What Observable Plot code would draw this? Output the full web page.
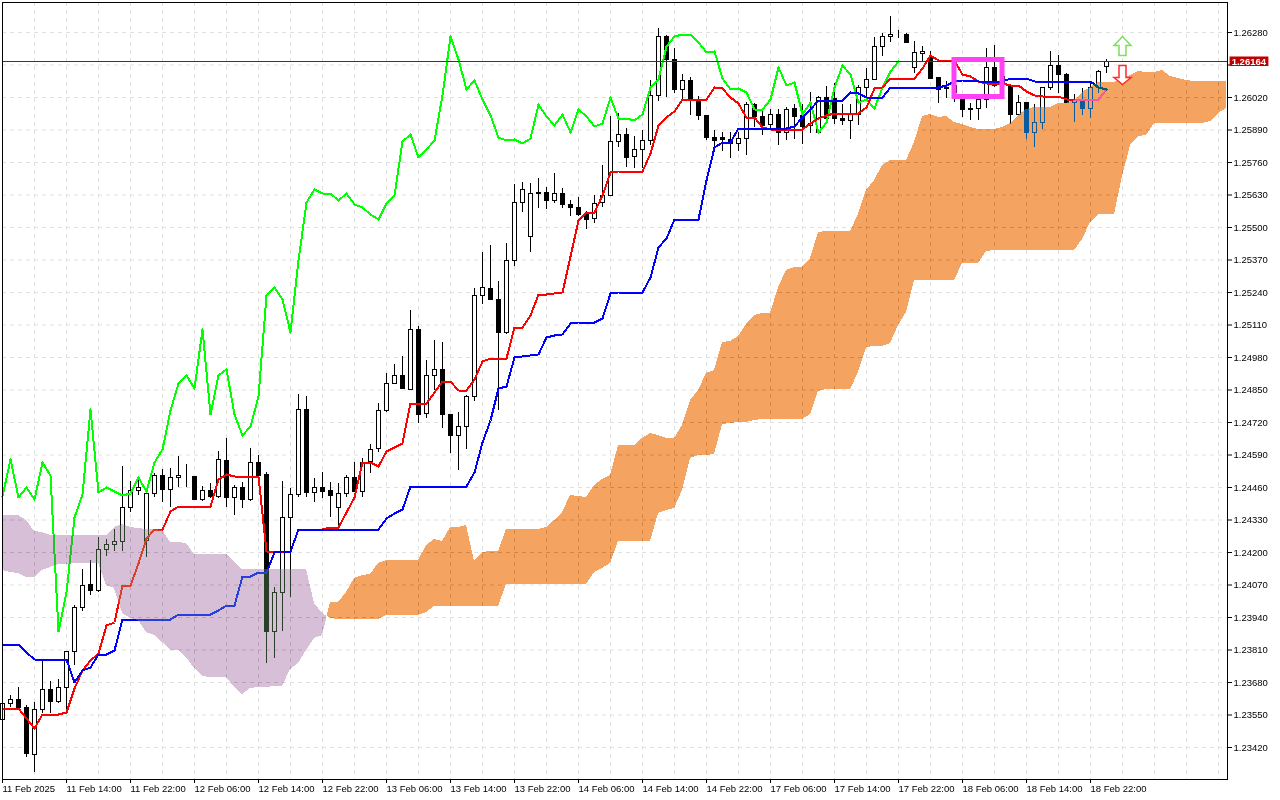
<!DOCTYPE html>
<html>
<head>
<meta charset="utf-8">
<script src="https://cdn.jsdelivr.net/npm/d3@7"></script>
<script src="https://cdn.jsdelivr.net/npm/@observablehq/plot@0.6"></script>
<style>
html,body{margin:0;padding:0;background:#fff}
svg{display:block}
</style>
</head>
<body>
<div id="chart"></div>
<script>
const open = [
1.23532,1.23596,1.23612,1.23580,1.23392,1.23572,1.23652,1.23604,1.23660,1.23804,
1.23980,1.24072,1.24048,1.24212,1.24232,1.24244,1.24380,1.24448,1.24248,1.24436,
1.24508,1.24452,1.24500,1.24508,1.24504,1.24412,1.24448,1.24424,1.24568,1.24420,
1.24460,1.24412,1.24560,1.24512,1.23884,1.24040,1.24340,1.24432,1.24772,1.24440,
1.24460,1.24448,1.24380,1.24436,1.24500,1.24444,1.24564,1.24616,1.24768,1.24876,
1.24908,1.24852,1.25092,1.24756,1.24908,1.24932,1.24752,1.24668,1.24704,1.24824,
1.25228,1.25256,1.25212,1.25080,1.25368,1.25600,1.25464,1.25640,1.25640,1.25608,
1.25636,1.25592,1.25580,1.25552,1.25536,1.25600,1.25628,1.25844,1.25872,1.25784,
1.25812,1.25848,1.26028,1.26264,1.26172,1.26052,1.26088,1.26008,1.25948,1.25860,
1.25860,1.25852,1.25836,1.25856,1.25992,1.25944,1.25912,1.25952,1.25880,1.25976,
1.25948,1.25908,1.25880,1.26020,1.26016,1.25936,1.25928,1.25952,1.26060,1.26092,
1.26224,1.26264,1.26272,1.26272,1.26140,1.26196,1.26180,1.26100,1.26060,1.26068,
1.26012,1.25976,1.25976,1.26012,1.26140,1.26104,1.26068,1.25952,1.26000,1.25880,
1.25920,1.26060,1.26148,1.26112,1.26000,1.26012,1.25976,1.26060,1.26144];
const high = [
1.23620,1.23628,1.23660,1.23588,1.23600,1.23768,1.23684,1.23692,1.23804,1.23988,
1.24132,1.24168,1.24260,1.24252,1.24292,1.24544,1.24484,1.24500,1.24436,1.24516,
1.24532,1.24536,1.24584,1.24552,1.24504,1.24464,1.24476,1.24604,1.24656,1.24468,
1.24480,1.24616,1.24588,1.24520,1.24060,1.24484,1.24456,1.24832,1.24824,1.24496,
1.24520,1.24480,1.24476,1.24508,1.24560,1.24576,1.24632,1.24796,1.24916,1.24952,
1.24984,1.25168,1.25104,1.24968,1.25048,1.25040,1.24752,1.24760,1.24828,1.25256,
1.25400,1.25428,1.25284,1.25436,1.25672,1.25680,1.25676,1.25696,1.25660,1.25716,
1.25656,1.25608,1.25620,1.25564,1.25628,1.25748,1.25944,1.25956,1.25896,1.25864,
1.25888,1.26088,1.26296,1.26268,1.26216,1.26112,1.26100,1.26024,1.25948,1.25888,
1.25880,1.25880,1.25880,1.26000,1.25996,1.25972,1.25972,1.25972,1.25980,1.25992,
1.25992,1.26040,1.26024,1.26064,1.26076,1.25992,1.25992,1.26068,1.26136,1.26260,
1.26276,1.26344,1.26288,1.26276,1.26244,1.26224,1.26204,1.26100,1.26084,1.26088,
1.26032,1.25996,1.26032,1.26216,1.26228,1.26128,1.26068,1.26028,1.26000,1.25992,
1.26060,1.26204,1.26188,1.26116,1.26032,1.26056,1.26076,1.26128,1.26172];
const low = [
1.23520,1.23580,1.23580,1.23380,1.23320,1.23556,1.23556,1.23596,1.23556,1.23748,
1.23964,1.24028,1.24040,1.24184,1.24204,1.24204,1.24360,1.24428,1.24180,1.24420,
1.24400,1.24380,1.24460,1.24460,1.24408,1.24404,1.24416,1.24416,1.24380,1.24348,
1.24376,1.24404,1.24508,1.23756,1.23776,1.23884,1.24020,1.24420,1.24420,1.24400,
1.24416,1.24340,1.24284,1.24420,1.24444,1.24420,1.24516,1.24600,1.24760,1.24876,
1.24856,1.24852,1.24716,1.24736,1.24848,1.24696,1.24596,1.24528,1.24612,1.24804,
1.25192,1.25208,1.24768,1.25072,1.25344,1.25560,1.25400,1.25576,1.25572,1.25596,
1.25576,1.25544,1.25544,1.25492,1.25516,1.25580,1.25628,1.25820,1.25740,1.25736,
1.25736,1.25828,1.26004,1.26020,1.26036,1.26012,1.25948,1.25928,1.25848,1.25808,
1.25804,1.25776,1.25804,1.25788,1.25900,1.25868,1.25888,1.25828,1.25848,1.25852,
1.25832,1.25876,1.25876,1.25916,1.25912,1.25908,1.25852,1.25908,1.26020,1.26092,
1.26184,1.26240,1.26256,1.26240,1.26116,1.26160,1.26092,1.25996,1.26016,1.26000,
1.25940,1.25928,1.25928,1.25976,1.26060,1.26056,1.25912,1.25952,1.25852,1.25820,
1.25892,1.26048,1.26036,1.26000,1.25920,1.25948,1.25936,1.26036,1.26116];
const close = [
1.23596,1.23612,1.23580,1.23396,1.23572,1.23652,1.23604,1.23660,1.23804,1.23980,
1.24068,1.24048,1.24212,1.24232,1.24244,1.24380,1.24448,1.24460,1.24436,1.24508,
1.24452,1.24500,1.24508,1.24508,1.24412,1.24448,1.24424,1.24572,1.24420,1.24460,
1.24412,1.24560,1.24508,1.23884,1.24040,1.24340,1.24432,1.24772,1.24440,1.24460,
1.24444,1.24428,1.24436,1.24500,1.24444,1.24560,1.24612,1.24768,1.24876,1.24908,
1.24856,1.25092,1.24752,1.24908,1.24932,1.24752,1.24668,1.24704,1.24824,1.25228,
1.25260,1.25212,1.25080,1.25368,1.25600,1.25652,1.25636,1.25636,1.25608,1.25636,
1.25592,1.25580,1.25552,1.25532,1.25596,1.25628,1.25844,1.25872,1.25780,1.25812,
1.25848,1.26028,1.26264,1.26172,1.26052,1.26088,1.26012,1.25948,1.25860,1.25848,
1.25852,1.25836,1.25856,1.25992,1.25944,1.25908,1.25952,1.25880,1.25972,1.25944,
1.25904,1.25916,1.26020,1.25936,1.25936,1.25928,1.25952,1.26060,1.26092,1.26224,
1.26264,1.26272,1.26272,1.26240,1.26200,1.26204,1.26096,1.26052,1.26056,1.26040,
1.25972,1.25972,1.26012,1.26140,1.26068,1.26080,1.25952,1.26000,1.25880,1.25920,
1.26060,1.26148,1.26112,1.26000,1.26012,1.25976,1.26060,1.26124,1.26164];
const tenkan = [
1.23576,1.23576,1.23576,1.23536,1.23496,1.23552,1.23552,1.23552,1.23560,1.23656,
1.23728,1.23768,1.23796,1.23908,1.23920,1.24068,1.24068,1.24156,1.24256,1.24292,
1.24292,1.24364,1.24384,1.24384,1.24384,1.24384,1.24384,1.24492,1.24512,1.24504,
1.24504,1.24504,1.24504,1.24204,1.24204,1.24204,1.24204,1.24292,1.24292,1.24292,
1.24292,1.24300,1.24300,1.24360,1.24420,1.24560,1.24560,1.24544,1.24604,1.24620,
1.24636,1.24796,1.24796,1.24796,1.24840,1.24884,1.24884,1.24848,1.24848,1.24892,
1.24964,1.24976,1.24976,1.24976,1.25100,1.25100,1.25148,1.25232,1.25232,1.25236,
1.25240,1.25384,1.25528,1.25560,1.25560,1.25628,1.25720,1.25724,1.25724,1.25724,
1.25724,1.25796,1.25908,1.25940,1.25964,1.26012,1.26012,1.26012,1.26012,1.26060,
1.26056,1.26020,1.25996,1.25940,1.25940,1.25900,1.25892,1.25892,1.25892,1.25892,
1.25892,1.25916,1.25936,1.25948,1.25956,1.25956,1.25956,1.25956,1.25980,1.26056,
1.26060,1.26096,1.26096,1.26096,1.26096,1.26136,1.26188,1.26168,1.26168,1.26168,
1.26112,1.26104,1.26084,1.26076,1.26076,1.26076,1.26068,1.26068,1.26044,1.26028,
1.26024,1.26024,1.26024,1.26012,1.26012,1.26012,1.26012,1.26012,1.26052];
const kijun = [
1.23832,1.23832,1.23832,1.23800,1.23772,1.23772,1.23772,1.23772,1.23772,1.23680,
1.23728,1.23740,1.23792,1.23792,1.23808,1.23932,1.23932,1.23932,1.23932,1.23932,
1.23932,1.23932,1.23952,1.23952,1.23952,1.23952,1.23952,1.23968,1.23988,1.23988,
1.24104,1.24104,1.24120,1.24120,1.24200,1.24204,1.24204,1.24292,1.24292,1.24292,
1.24292,1.24292,1.24292,1.24292,1.24292,1.24292,1.24292,1.24292,1.24336,1.24356,
1.24372,1.24464,1.24464,1.24464,1.24464,1.24464,1.24464,1.24464,1.24464,1.24520,
1.24640,1.24728,1.24856,1.24864,1.24980,1.24984,1.24988,1.24992,1.25060,1.25068,
1.25072,1.25116,1.25120,1.25120,1.25120,1.25136,1.25236,1.25240,1.25240,1.25240,
1.25240,1.25300,1.25420,1.25456,1.25532,1.25532,1.25532,1.25532,1.25688,1.25820,
1.25840,1.25840,1.25896,1.25896,1.25896,1.25896,1.25896,1.25896,1.25896,1.25904,
1.25940,1.25972,1.26008,1.26008,1.26008,1.26008,1.26040,1.26036,1.26020,1.26020,
1.26020,1.26060,1.26060,1.26060,1.26060,1.26060,1.26060,1.26060,1.26068,1.26084,
1.26088,1.26088,1.26084,1.26084,1.26084,1.26084,1.26096,1.26096,1.26096,1.26084,
1.26084,1.26084,1.26084,1.26084,1.26084,1.26084,1.26084,1.26060,1.26052];
const chikou = [
1.24424,1.24572,1.24420,1.24460,1.24412,1.24560,1.24508,1.23884,1.24040,1.24340,
1.24432,1.24772,1.24440,1.24460,1.24444,1.24428,1.24436,1.24500,1.24444,1.24560,
1.24612,1.24768,1.24876,1.24908,1.24856,1.25092,1.24752,1.24908,1.24932,1.24752,
1.24668,1.24704,1.24824,1.25228,1.25260,1.25212,1.25080,1.25368,1.25600,1.25652,
1.25636,1.25636,1.25608,1.25636,1.25592,1.25580,1.25552,1.25532,1.25596,1.25628,
1.25844,1.25872,1.25780,1.25812,1.25848,1.26028,1.26264,1.26172,1.26052,1.26088,
1.26012,1.25948,1.25860,1.25848,1.25852,1.25836,1.25856,1.25992,1.25944,1.25908,
1.25952,1.25880,1.25972,1.25944,1.25904,1.25916,1.26020,1.25936,1.25936,1.25928,
1.25952,1.26060,1.26092,1.26224,1.26264,1.26272,1.26272,1.26240,1.26200,1.26204,
1.26096,1.26052,1.26056,1.26040,1.25972,1.25972,1.26012,1.26140,1.26068,1.26080,
1.25952,1.26000,1.25880,1.25920,1.26060,1.26148,1.26112,1.26000,1.26012,1.25976,
1.26060,1.26124,1.26164];
const spanA = [
1.24128,1.24120,1.24116,1.24100,1.24100,1.24128,1.24140,1.24152,1.24152,1.24156,
1.24156,1.24156,1.24156,1.24068,1.24056,1.23956,1.23936,1.23928,1.23880,1.23868,
1.23840,1.23808,1.23808,1.23780,1.23736,1.23704,1.23700,1.23700,1.23700,1.23660,
1.23632,1.23656,1.23660,1.23660,1.23664,1.23664,1.23732,1.23756,1.23808,1.23856,
1.23868,1.24000,1.24000,1.24040,1.24096,1.24108,1.24112,1.24156,1.24168,1.24168,
1.24168,1.24168,1.24168,1.24228,1.24252,1.24244,1.24300,1.24300,1.24308,1.24164,
1.24200,1.24204,1.24204,1.24292,1.24292,1.24292,1.24292,1.24292,1.24300,1.24328,
1.24360,1.24428,1.24424,1.24420,1.24468,1.24492,1.24508,1.24628,1.24628,1.24628,
1.24656,1.24676,1.24668,1.24656,1.24656,1.24708,1.24808,1.24848,1.24916,1.24928,
1.25040,1.25044,1.25064,1.25112,1.25148,1.25156,1.25156,1.25260,1.25328,1.25340,
1.25340,1.25376,1.25480,1.25484,1.25484,1.25484,1.25484,1.25552,1.25648,1.25688,
1.25748,1.25768,1.25768,1.25768,1.25840,1.25944,1.25952,1.25940,1.25944,1.25920,
1.25912,1.25900,1.25892,1.25892,1.25892,1.25900,1.25916,1.25948,1.25972,1.25980,
1.25980,1.25980,1.25996,1.25996,1.26008,1.26040,1.26060,1.26080,1.26080,1.26080,
1.26092,1.26108,1.26124,1.26120,1.26120,1.26128,1.26104,1.26096,1.26088,1.26084,
1.26084,1.26084,1.26084,1.26084];
const spanB = [
1.24348,1.24348,1.24348,1.24328,1.24284,1.24280,1.24268,1.24268,1.24268,1.24268,
1.24268,1.24268,1.24268,1.24268,1.24300,1.24312,1.24300,1.24296,1.24292,1.24292,
1.24288,1.24240,1.24240,1.24236,1.24192,1.24192,1.24192,1.24192,1.24192,1.24160,
1.24132,1.24132,1.24132,1.24132,1.24132,1.24132,1.24132,1.24132,1.24132,1.23996,
1.23956,1.23936,1.23932,1.23932,1.23932,1.23932,1.23932,1.23932,1.23948,1.23948,
1.23948,1.23948,1.23948,1.23960,1.23984,1.23984,1.23984,1.23984,1.23984,1.23984,
1.23984,1.23984,1.23984,1.24072,1.24072,1.24072,1.24072,1.24072,1.24072,1.24072,
1.24072,1.24072,1.24072,1.24072,1.24120,1.24136,1.24156,1.24244,1.24244,1.24244,
1.24244,1.24244,1.24356,1.24368,1.24376,1.24448,1.24576,1.24588,1.24588,1.24592,
1.24712,1.24716,1.24720,1.24720,1.24728,1.24732,1.24732,1.24732,1.24732,1.24732,
1.24732,1.24752,1.24844,1.24852,1.24852,1.24852,1.24852,1.24920,1.25020,1.25024,
1.25024,1.25036,1.25108,1.25160,1.25288,1.25288,1.25288,1.25288,1.25288,1.25288,
1.25356,1.25356,1.25356,1.25404,1.25408,1.25408,1.25408,1.25408,1.25408,1.25408,
1.25408,1.25408,1.25408,1.25408,1.25408,1.25452,1.25520,1.25552,1.25552,1.25552,
1.25704,1.25828,1.25864,1.25868,1.25916,1.25916,1.25916,1.25916,1.25916,1.25916,
1.25916,1.25924,1.25956,1.25976];
const priceTicks = [1.2628,1.2615,1.2602,1.2589,1.2576,1.2563,1.255,1.2537,1.2524,1.2511,1.2498,1.2485,1.2472,1.2459,1.2446,1.2433,1.242,1.2407,1.2394,1.2381,1.2368,1.2355,1.2342];
const hiddenPriceTick = 1.2615;
const timeTickBars = [0,8,16,24,32,40,48,56,64,72,80,88,96,104,112,120,128,136];
const timeLabels = ["11 Feb 2025","11 Feb 14:00","11 Feb 22:00","12 Feb 06:00","12 Feb 14:00","12 Feb 22:00","13 Feb 06:00","13 Feb 14:00","13 Feb 22:00","14 Feb 06:00","14 Feb 14:00","14 Feb 22:00","17 Feb 06:00","17 Feb 14:00","17 Feb 22:00","18 Feb 06:00","18 Feb 14:00","18 Feb 22:00"];
const gridBars = [0,4,8,12,16,20,24,28,32,36,40,44,48,52,56,60,64,68,72,76,80,84,88,92,96,100,104,108,112,116,120,124,128,132,136,140,144,148,152];
const lastPrice = 1.26164;

const candles = open.map((o,i)=>({i,open:o,high:high[i],low:low[i],close:close[i]}));
const rising = candles.filter(d=>d.close>=d.open);
const falling = candles.filter(d=>d.close<d.open);
const series = a => a.map((v,i)=>({i,v}));

// split the cloud where the spans cross
const bearish = [], bullish = [];
spanA.forEach((a,i)=>{
  const b = spanB[i], row = {i,a,b};
  (a<b?bearish:bullish).push(row);
  if (i+1<spanA.length && (a-b)*(spanA[i+1]-spanB[i+1])<0) {
    const t=(a-b)/((a-b)-(spanA[i+1]-spanB[i+1]));
    const v=a+t*(spanA[i+1]-a), cross={i:i+t,a:v,b:v};
    bearish.push(cross); bullish.push(cross);
  }
});

const upArrow = {draw(c){c.moveTo(0,-9);c.lineTo(8.5,0);c.lineTo(3.5,0);c.lineTo(3.5,10);c.lineTo(-3.5,10);c.lineTo(-3.5,0);c.lineTo(-8.5,0);c.closePath();}};
const downArrow = {draw(c){c.moveTo(0,7);c.lineTo(8.5,0);c.lineTo(3.5,0);c.lineTo(3.5,-12);c.lineTo(-3.5,-12);c.lineTo(-3.5,0);c.lineTo(-8.5,0);c.closePath();}};

const gridStyle = {stroke:"#e0e0e0",strokeOpacity:1,strokeDasharray:"4,4",strokeWidth:1};
const lineStyle = {x:"i",y:"v",strokeWidth:2,shapeRendering:"crispEdges"};
const font = "Liberation Sans";

const chart = Plot.plot({
  width:1280,height:800,
  marginLeft:2,marginRight:53,marginTop:2,marginBottom:21,
  x:{type:"linear",domain:[0,153.125]},
  y:{type:"linear",domain:[1.23292,1.264]},
  style:{background:"#fff",fontFamily:font,fontSize:"9.5px",color:"#000"},
  marks:[
    Plot.gridX(gridBars,{...gridStyle}),
    Plot.gridY(priceTicks,{...gridStyle}),
    Plot.ruleX(candles,{x:"i",y1:"low",y2:"high",stroke:"#000",strokeWidth:1}),
    Plot.rect(rising,{x1:d=>d.i-0.25,x2:d=>d.i+0.25,y1:"open",y2:"close",fill:"#fff",stroke:"#000",dx:0.5,dy:0.5}),
    Plot.rect(falling,{x1:d=>d.i-0.25,x2:d=>d.i+0.25,y1:"open",y2:"close",fill:"#000",stroke:"#000",dx:0.5,dy:0.5}),
    Plot.line(series(chikou),{...lineStyle,stroke:"#00ff00"}),
    Plot.line(series(tenkan),{...lineStyle,stroke:"#ff0000"}),
    Plot.line(series(kijun),{...lineStyle,stroke:"#0000ff"}),
    Plot.areaY(bearish,{x:"i",y1:"a",y2:"b",fill:"#274027",mixBlendMode:"difference",shapeRendering:"crispEdges"}),
    Plot.areaY(bullish,{x:"i",y1:"a",y2:"b",fill:"#0B5B9F",mixBlendMode:"difference",shapeRendering:"crispEdges"}),
    Plot.ruleY([lastPrice],{stroke:"#b80000",strokeWidth:1}),
    Plot.rect([{}],{x1:()=>119,x2:()=>125,y1:()=>1.26170,y2:()=>1.26022,fill:"none",stroke:"#ff40f4",strokeWidth:5}),
    Plot.dot([{x:140,y:1.26228}],{x:"x",y:"y",symbol:upArrow,r:5,fill:"#fff",stroke:"#7ede5a",strokeWidth:1.5}),
    Plot.dot([{x:140,y:1.26100}],{x:"x",y:"y",symbol:downArrow,r:5,fill:"#fff",stroke:"#ff2a2a",strokeWidth:1.5}),
    Plot.frame({stroke:"#000"}),
    Plot.axisY(priceTicks,{anchor:"right",tickSize:4,tickPadding:2,tickFormat:d=>d===hiddenPriceTick?"":d.toFixed(5),label:null,fontSize:9.5,stroke:"#000",fill:"#000"}),
    Plot.axisX(timeTickBars,{anchor:"bottom",tickSize:4,tickPadding:2,tickFormat:i=>timeLabels[timeTickBars.indexOf(i)],textAnchor:"start",label:null,fontSize:9.5,stroke:"#000",fill:"#000"}),
    Plot.rect([{}],{x1:()=>153.45,x2:()=>158.3,y1:()=>1.26182,y2:()=>1.26144,fill:"#c00000"}),
    Plot.text([lastPrice],{x:()=>153.65,y:d=>d,text:d=>d.toFixed(5),textAnchor:"start",fill:"#fff",fontSize:9.5,fontWeight:"bold"})
  ]
});
document.getElementById("chart").appendChild(chart);
</script>
</body>
</html>
